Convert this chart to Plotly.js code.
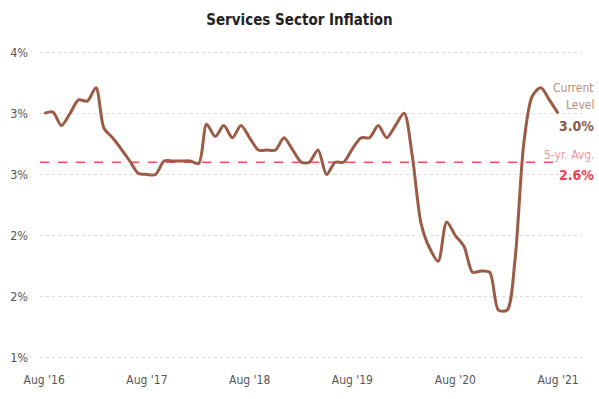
<!DOCTYPE html>
<html>
<head>
<meta charset="utf-8">
<script src="https://cdn.plot.ly/plotly-3.0.1.min.js"></script>
<style>html,body{margin:0;padding:0;background:#fff;}#chart{width:599px;height:399px;}</style>
</head>
<body>
<div id="chart"></div>
<script>
// Monthly dates Aug 2016 .. Aug 2021
const months = [
  "2016-08-01","2016-09-01","2016-10-01","2016-11-01","2016-12-01",
  "2017-01-01","2017-02-01","2017-03-01","2017-04-01","2017-05-01","2017-06-01","2017-07-01","2017-08-01","2017-09-01","2017-10-01","2017-11-01","2017-12-01",
  "2018-01-01","2018-02-01","2018-03-01","2018-04-01","2018-05-01","2018-06-01","2018-07-01","2018-08-01","2018-09-01","2018-10-01","2018-11-01","2018-12-01",
  "2019-01-01","2019-02-01","2019-03-01","2019-04-01","2019-05-01","2019-06-01","2019-07-01","2019-08-01","2019-09-01","2019-10-01","2019-11-01","2019-12-01",
  "2020-01-01","2020-02-01","2020-03-01","2020-04-01","2020-05-01","2020-06-01","2020-07-01","2020-08-01","2020-09-01","2020-10-01","2020-11-01","2020-12-01",
  "2021-01-01","2021-02-01","2021-03-01","2021-04-01","2021-05-01","2021-06-01","2021-07-01","2021-08-01"
];
const inflation = [
  3.00, 3.01, 2.90, 3.00, 3.11,
  3.10, 3.21, 2.88, 2.80, 2.71, 2.61, 2.51, 2.50, 2.50, 2.61, 2.61, 2.61,
  2.61, 2.59, 2.91, 2.81, 2.90, 2.80, 2.90, 2.80, 2.70, 2.70, 2.70, 2.80,
  2.70, 2.60, 2.60, 2.70, 2.50, 2.60, 2.60, 2.71, 2.80, 2.80, 2.90, 2.80,
  2.90, 3.00, 2.65, 2.10, 1.90, 1.79, 2.11, 2.00, 1.91, 1.70, 1.71, 1.70,
  1.39, 1.39, 1.80, 2.75, 3.14, 3.21, 3.11, 3.00
];
const fiveYearAvg = 2.6;
const currentLevel = 3.0;

const xTickVals = ["2016-08-01","2017-08-01","2018-08-01","2019-08-01","2020-08-01","2021-08-01"];
const xTickText = ["Aug '16","Aug '17","Aug '18","Aug '19","Aug '20","Aug '21"];
const yTickVals = [1.0, 1.5, 2.0, 2.5, 3.0, 3.5];
const yTickText = ["1%","2%","2%","3%","3%","4%"];

const xStart = "2016-07-17";
const xEnd = "2021-10-25";
const FONT = "'Liberation Sans Narrow', 'DejaVu Sans Condensed', 'Roboto', sans-serif";

const traces = [
  {
    x: [xStart, months[months.length - 1]],
    y: [fiveYearAvg, fiveYearAvg],
    mode: "lines",
    line: {color: "#f2525c", width: 1.5, dash: "dash"},
    hoverinfo: "skip"
  },
  {
    x: months,
    y: inflation,
    mode: "lines",
    line: {color: "#9b5b45", width: 3, shape: "spline", smoothing: 0.8},
    hoverinfo: "skip"
  }
];

const layout = {
  width: 599, height: 399,
  margin: {l: 40, r: 17, t: 51, b: 40},
  paper_bgcolor: "#ffffff",
  plot_bgcolor: "#ffffff",
  showlegend: false,
  title: {
    text: "<b>Services Sector Inflation</b>",
    font: {family: FONT, size: 15, color: "#222222"},
    x: 0.5, xanchor: "center", y: 0.95, yanchor: "middle", yref: "container"
  },
  font: {family: FONT, size: 12, color: "#555555"},
  xaxis: {
    type: "date",
    range: [xStart, xEnd],
    tickvals: xTickVals,
    ticktext: xTickText,
    showgrid: false,
    zeroline: false,
    showline: false,
    ticks: "",
    ticklabelstandoff: 12,
    tickfont: {family: FONT, size: 12, color: "#555555"}
  },
  yaxis: {
    range: [0.99, 3.51],
    tickvals: yTickVals,
    ticktext: yTickText,
    showgrid: true,
    gridcolor: "#d9d9d9",
    griddash: "dot",
    gridwidth: 1,
    zeroline: false,
    showline: false,
    ticks: "",
    ticklabelstandoff: 11,
    tickfont: {family: FONT, size: 12.5, color: "#555555"}
  },
  annotations: [
    {xref: "paper", x: 1, xanchor: "right", xshift: 14, yref: "y", y: currentLevel, yshift: 25,
     text: "Current", showarrow: false, font: {family: FONT, size: 12, color: "#bb8d7f"}},
    {xref: "paper", x: 1, xanchor: "right", xshift: 14, yref: "y", y: currentLevel, yshift: 8,
     text: "Level", showarrow: false, font: {family: FONT, size: 12, color: "#bb8d7f"}},
    {xref: "paper", x: 1, xanchor: "right", xshift: 14, yref: "y", y: currentLevel, yshift: -13,
     text: "<b>" + currentLevel.toFixed(1) + "%</b>", showarrow: false, font: {family: FONT, size: 14, color: "#8e5b4b"}},
    {xref: "paper", x: 1, xanchor: "right", xshift: 14, yref: "y", y: fiveYearAvg, yshift: 7,
     text: "5-yr. Avg.", showarrow: false, font: {family: FONT, size: 12, color: "#f3969c"}},
    {xref: "paper", x: 1, xanchor: "right", xshift: 14, yref: "y", y: fiveYearAvg, yshift: -13,
     text: "<b>" + fiveYearAvg.toFixed(1) + "%</b>", showarrow: false, font: {family: FONT, size: 14, color: "#ee3f4e"}}
  ]
};

Plotly.newPlot("chart", traces, layout, {staticPlot: true, displayModeBar: false});
</script>
</body>
</html>
